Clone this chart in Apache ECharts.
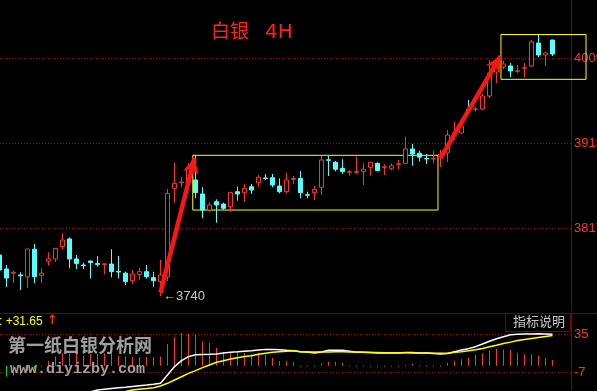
<!DOCTYPE html>
<html><head><meta charset="utf-8">
<script src="https://cdn.jsdelivr.net/npm/echarts@6/dist/echarts.min.js"></script>
<style>html,body{margin:0;padding:0;background:#000;}#c{width:597px;height:391px;}</style>
</head><body><div id="c"></div>
<script>
// ---- data (4H silver candles) ----
const opens  = [3786.5,3770.7,3766.0,3764.0,3761.7,3793.0,3763.5,3779.5,3782.0,3796.0,3804.6,3782.0,3775.2,3779.7,3777.0,3776.0,3776.3,3768.0,3766.0,3757.5,3764.7,3767.7,3760.9,3756.4,3761.7,3861.8,3868.0,3868.0,3871.2,3855.4,3837.3,3846.7,3844.0,3841.0,3858.0,3856.9,3863.6,3868.2,3873.5,3873.8,3864.4,3858.0,3872.0,3873.0,3854.5,3856.9,3863.0,3894.0,3891.2,3884.4,3880.0,3880.0,3880.7,3885.5,3890.0,3885.5,3884.4,3889.0,3890.0,3906.2,3901.4,3895.5,3894.9,3897.5,3901.7,3924.0,3924.3,3950.5,3951.0,3951.4,3966.1,3993.2,3998.8,4000.0,3994.0,3997.5,4000.0,4025.9,4012.4,4029.3];
const closes = [3769.6,3760.5,3767.0,3763.0,3793.3,3762.0,3766.0,3782.0,3794.0,3803.4,3782.0,3777.0,3774.5,3778.0,3775.8,3776.5,3767.7,3767.3,3756.4,3765.0,3767.7,3762.0,3757.5,3763.9,3856.0,3867.4,3869.0,3884.0,3857.0,3837.3,3843.0,3843.0,3839.3,3856.9,3855.4,3861.8,3859.9,3874.3,3872.8,3865.6,3858.0,3871.2,3872.8,3857.0,3854.0,3860.7,3893.8,3893.5,3883.3,3880.7,3880.5,3880.7,3883.3,3891.2,3881.8,3886.0,3887.3,3889.5,3906.2,3900.6,3897.0,3895.0,3895.5,3900.6,3922.0,3924.5,3932.2,3950.0,3951.4,3966.1,3992.1,3998.8,4002.2,3994.3,3994.5,3998.0,4027.1,4012.4,4014.6,4013.5];
const lows   = [3765.0,3750.4,3755.0,3747.0,3749.2,3754.5,3755.0,3774.5,3778.6,3793.0,3771.5,3770.7,3770.7,3760.0,3773.5,3765.0,3761.3,3760.0,3752.6,3753.8,3758.3,3760.0,3750.7,3740.0,3757.0,3845.6,3863.0,3866.0,3850.5,3828.0,3835.4,3823.0,3837.3,3835.4,3847.8,3846.7,3855.4,3863.6,3871.2,3863.0,3856.2,3856.2,3866.7,3850.5,3850.5,3848.6,3854.3,3875.7,3881.0,3878.0,3876.0,3878.0,3865.6,3876.0,3881.0,3876.9,3882.5,3883.6,3890.0,3887.4,3892.0,3889.3,3890.0,3886.0,3891.5,3916.4,3923.5,3948.0,3948.5,3950.3,3963.8,3980.8,3996.6,3987.5,3992.1,3987.5,3998.8,4010.1,4000.0,4011.3];
const highs  = [3790.0,3775.2,3769.0,3767.0,3793.5,3799.0,3771.5,3789.5,3794.2,3811.0,3806.5,3786.5,3778.0,3780.0,3785.4,3776.8,3793.0,3785.4,3767.7,3769.6,3772.2,3775.2,3767.7,3780.9,3861.0,3890.7,3874.0,3890.0,3899.4,3863.0,3846.0,3849.4,3845.6,3858.0,3863.6,3866.7,3866.7,3876.9,3878.0,3878.0,3873.0,3879.4,3875.7,3881.4,3858.0,3864.4,3898.3,3898.3,3892.7,3894.6,3882.5,3897.5,3890.0,3891.4,3891.2,3889.0,3890.0,3893.8,3920.2,3911.9,3904.3,3900.6,3904.0,3905.1,3927.7,3936.7,3933.0,3961.6,3954.0,3968.3,4006.7,4007.9,4005.6,4003.4,4001.1,4003.4,4029.3,4035.0,4015.8,4029.5];
// MACD panel
const macdHist = [-10,-12,-11,-10,-6,-3,-0.8,5.5,10.5,13.7,13.7,13,11,13,13,13.7,14,11,10,9.5,9.5,9.5,9.5,10,24,31.7,36,35,34,27,25,19.6,15,15,15,14,13,14,12,8.5,5.2,5.2,4,-1,-1,-1,2,4.4,4.4,3.3,-1,-1,-1,-1,-1,-1,-1,-1,-1,2,-1,-1,-1,-1,3.3,5.5,7,8.8,11.8,13.7,16.2,18.5,18,17.3,14.4,12.6,12.6,11,8.8,6.3];
const difLine = [null,null,null,null,null,null,null,null,null,null,null,null,null,-29,-26.9,-26,-25.2,-24.5,-23.8,-23,-22.2,-21.5,-20.6,-19.5,-10.3,-1,5.5,10,12,12.3,12.5,13,14,14.7,15.3,16,16.6,17.3,18,18,17.5,17,16.6,15.4,15,14,15,17,17,17,16,14.7,14.7,14.5,14,14,14,14,14.5,14.5,14,14,13.5,12.9,13.5,15.4,17.3,18.8,21,24,27,29.8,32,34.2,34.6,35,35,35.3,35,34.6];
const deaLine = [null,null,null,null,null,null,null,null,null,null,null,null,null,null,null,null,null,null,-28.5,-27,-26,-25.2,-24.3,-22.5,-19.5,-15.8,-12.2,-8.5,-5.5,-2.2,0.7,3.7,5.5,7.4,8.8,10,11,12.5,13.6,14.7,15.4,16,16.6,15.4,15.2,15,15,15.2,15.3,15.3,15.2,15,14.8,14.6,14.5,14.4,14.3,14.2,14.2,14.1,14,14,13.8,13.6,13.8,14.7,15.4,16.4,17.5,19,20.8,22.6,24.5,26,27.9,29,30.1,31.2,32.3,33.4];
const priceTicks = [3817, 3913, 4009];
const macdTicks = [-7, 35];
const lowMark = {index: 23, value: 3740};
const macdValueText = ': +31.65';
// annotations in data units [candle index, price]
const arrows = [[[23, 3744], [27.86, 3896]], [[63, 3896], [71.57, 4011]]];
const boxes = [[[27.61, 3899.1], [62.64, 3837.3]], [[71.64, 4035.5], [83.79, 3984.9]]];

const X0 = 0.5 / 7;          // candle i centred at pixel -0.5 + 7*i
const candleData = opens.map((o, i) => [i, o, closes[i], lows[i], highs[i]]);
const histData = macdHist.map((v, i) => [i, v]);
const toLine = arr => arr.map((v, i) => v == null ? null : [i, v]).filter(p => p);

const RED = '#ff3232', CYAN = '#54ffff', AXIS = '#800000', GRIDC = '#b00000';
const labelFont = {color: '#ff3232', fontFamily: 'Liberation Sans', fontSize: 13, margin: 3, formatter: v => String(v)};

const chart = echarts.init(document.getElementById('c'), null, {renderer: 'canvas'});
chart.setOption({
  backgroundColor: '#000',
  animation: false,
  grid: [
    {left: 0, top: 0, width: 571, height: 313, containLabel: false, outerBoundsMode: 'none'},
    {left: 0, top: 0, width: 597, height: 313, containLabel: false, outerBoundsMode: 'none'},
    {left: 0, top: 313, width: 571, height: 78, containLabel: false, outerBoundsMode: 'none'}
  ],
  xAxis: [
    {gridIndex: 0, type: 'value', min: X0, max: X0 + 571 / 7, show: false},
    {gridIndex: 1, type: 'value', min: X0, max: X0 + 597 / 7, axisLine: {show: true, onZero: false, lineStyle: {color: AXIS}}, axisTick: {show: false}, axisLabel: {show: false}, splitLine: {show: false}},
    {gridIndex: 2, type: 'value', min: X0, max: X0 + 571 / 7, show: false}
  ],
  yAxis: [
    {gridIndex: 0, type: 'value', position: 'right', min: 3721, max: 4074.5,
      axisLine: {show: true, lineStyle: {color: AXIS}}, axisTick: {show: false, customValues: priceTicks},
      axisLabel: Object.assign({customValues: priceTicks}, labelFont),
      splitLine: {show: true, lineStyle: {color: GRIDC, type: [1, 2], width: 1}}},
    {gridIndex: 1, type: 'value', min: 3721, max: 4074.5, show: false},
    {gridIndex: 2, type: 'value', position: 'right', min: -28, max: 58.2,
      axisLine: {show: true, lineStyle: {color: AXIS}}, axisTick: {show: false, customValues: macdTicks},
      axisLabel: Object.assign({customValues: macdTicks}, labelFont),
      splitLine: {show: true, lineStyle: {color: GRIDC, type: [1, 2], width: 1}}}
  ],
  series: [
    {type: 'candlestick', xAxisIndex: 0, yAxisIndex: 0, data: candleData, barWidth: 4,
      itemStyle: {color: '#000', color0: CYAN, borderColor: RED, borderColor0: CYAN, borderWidth: 1},
      markPoint: {symbol: 'circle', symbolSize: 1, itemStyle: {color: 'rgba(0,0,0,0)'},
        label: {show: true, position: 'right', distance: 2, formatter: '←' + lowMark.value, color: '#c8c8c8', fontSize: 13, fontFamily: 'Liberation Sans'},
        data: [{coord: [lowMark.index, lowMark.value]}]}
    },
    {type: 'line', xAxisIndex: 1, yAxisIndex: 1, data: [], silent: true,
      markArea: {silent: true, label: {show: false},
        itemStyle: {color: 'rgba(0,0,0,0)', borderColor: '#ffff00', borderWidth: 1},
        data: boxes.map(b => [{coord: b[0]}, {coord: b[1]}])},
      markLine: {silent: true, symbol: ['none', 'arrow'], symbolSize: [12, 15], label: {show: false},
        lineStyle: {color: '#ff1414', width: 4.5, type: 'solid'},
        data: arrows.map(a => [{coord: a[0]}, {coord: a[1]}])}
    },
    {type: 'bar', xAxisIndex: 2, yAxisIndex: 2, data: histData, barWidth: 1,
      itemStyle: {color: p => p.value[1] >= 0 ? '#ff3232' : '#00dd00'}},
    {type: 'line', xAxisIndex: 2, yAxisIndex: 2, data: toLine(difLine), showSymbol: false, lineStyle: {color: '#ffffff', width: 1.5}},
    {type: 'line', xAxisIndex: 2, yAxisIndex: 2, data: toLine(deaLine), showSymbol: false, lineStyle: {color: '#ffff00', width: 1.5}}
  ],
  graphic: [
    {type: 'text', left: 211, top: 21, style: {text: '白银', fill: '#ff2020', font: '19px "Noto Sans CJK SC"'}},
    {type: 'text', left: 265, top: 23, style: {text: '4H', fill: '#ff2020', font: '20px "DejaVu Sans"'}},
    {type: 'text', left: -1, top: 316, style: {text: macdValueText, fill: '#ffff00', font: '12px "Liberation Sans"'}},
    {type: 'text', left: 47, top: 314, style: {text: '↑', fill: '#ff2020', font: 'bold 13px "DejaVu Sans"'}},
    {type: 'rect', shape: {x: 505.5, y: 313.5, width: 65, height: 18}, style: {fill: '#000', stroke: AXIS, lineWidth: 1}, z: 50},
    {type: 'text', left: 513, top: 315, style: {text: '指标说明', fill: '#c8c8c8', font: '13px "Noto Sans CJK SC"'}, z: 51},
    {type: 'text', left: 8, top: 336, style: {text: '第一纸白银分析网', fill: '#a0a0a0', font: 'bold 18px "Noto Sans CJK SC"'}, z: 100},
    {type: 'text', left: 10, top: 362, style: {text: 'www.diyizby.com', fill: '#a0a0a0', font: 'bold 15px "Liberation Mono"'}, z: 100}
  ]
});
</script></body></html>
